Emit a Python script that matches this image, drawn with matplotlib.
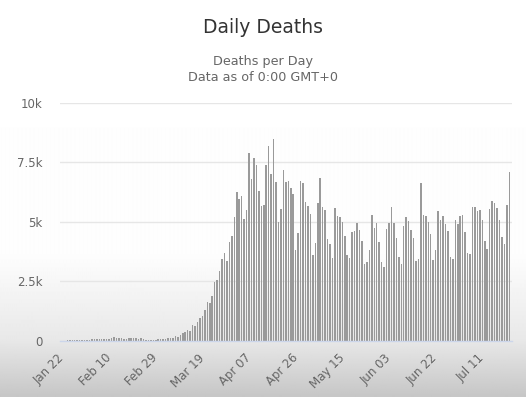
import numpy as np
import pandas as pd
import matplotlib
matplotlib.use("Agg")
import matplotlib.pyplot as plt

# ---- data (daily deaths) ----
start_date = "2020-01-22"
deaths_jan = [0, 8, 15, 15, 20, 25, 25, 30, 35, 40]
deaths_feb = [40, 45, 55, 60, 60, 65, 70, 75, 80, 90, 95, 140, 120, 130, 110, 90,
              85, 110, 100, 100, 95, 90, 110, 60, 50, 30, 40, 35, 35]
deaths_mar = [55, 65, 80, 85, 100, 105, 100, 180, 140, 250, 310, 350, 430, 390,
              660, 630, 800, 950, 1020, 1290, 1610, 1580, 1890, 2450, 2550, 2910,
              3430, 3670, 3340, 4130, 4410]
deaths_apr = [5180, 6260, 5950, 6090, 5100, 5500, 7870, 6800, 7660, 7380, 6300,
              5670, 5700, 7400, 8200, 7000, 8470, 6650, 4970, 5530, 7180, 6650,
              6720, 6400, 6160, 3820, 4520, 6720, 6620, 5840]
deaths_may = [5640, 5320, 3600, 4100, 5800, 6820, 5600, 5500, 4270, 4050, 3490,
              5560, 5250, 5180, 5000, 4380, 3600, 3470, 4550, 4620, 4940, 4660,
              4200, 3220, 3320, 3820, 5280, 4720, 4940, 4160, 3290]
deaths_jun = [3080, 4690, 4940, 5600, 4940, 4300, 3530, 3220, 4800, 5180, 5040,
              4660, 4310, 3360, 3430, 6620, 5280, 5220, 5000, 4480, 3400, 3800,
              5460, 5080, 5220, 4900, 4620, 3530, 3430, 5070]
deaths_jul = [4900, 5220, 5280, 4550, 3680, 3640, 5600, 5600, 5460, 5500, 5080,
              4200, 3850, 5530, 5850, 5800, 5590, 5080, 4370, 4060, 5710, 7070]

daily_deaths = (deaths_jan + deaths_feb + deaths_mar + deaths_apr + deaths_may
                + deaths_jun + deaths_jul)
dates = pd.date_range(start_date, periods=len(daily_deaths), freq="D")
tick_step = 19
y_ticks = [0, 2500, 5000, 7500, 10000]
y_tick_labels = ["0", "2.5k", "5k", "7.5k", "10k"]

title = "Daily Deaths"
subtitle_lines = ["Deaths per Day", "Data as of 0:00 GMT+0"]

# ---- figure ----
W, H = 526, 397
fig = plt.figure(figsize=(W / 100, H / 100), dpi=100)

# background: white fading to grey at the bottom (screenshot vignette)
rows = np.arange(H)
shade = np.interp(rows, [0, 255, 340, 397], [255, 253, 232, 198])
grad = np.tile(shade[:, None], (1, 4))
bg = fig.add_axes([0, 0, 1, 1], zorder=-10)
bg.imshow(grad, aspect="auto", cmap="gray", vmin=0, vmax=255,
          extent=[0, 1, 0, 1], interpolation="bilinear")
bg.axis("off")

left, right = 60 / W, 512 / W
bottom, top = 1 - 340.7 / H, 1 - 102.7 / H
ax = fig.add_axes([left, bottom, right - left, top - bottom])
ax.set_facecolor("none")

x = np.arange(len(daily_deaths))
ax.bar(x, daily_deaths, width=0.62, color="#9a9a9a", edgecolor="none", zorder=3)

ax.set_xlim(-1.0, 183.1)
ax.set_ylim(0, 10000)

ax.set_yticks(y_ticks)
ax.set_yticklabels(y_tick_labels)
ax.yaxis.grid(True, color="#e6e6e6", linewidth=1, zorder=0)
ax.tick_params(axis="y", length=0, pad=12.5, labelsize=8.5, labelcolor="#666666")

tick_pos = x[::tick_step]
ax.set_xticks(tick_pos)
ax.set_xticklabels([d.strftime("%b %d") for d in dates[::tick_step]],
                   rotation=45, ha="right", va="center", rotation_mode="anchor")
ax.tick_params(axis="x", length=0, pad=11, labelsize=8.5, labelcolor="#666666")

for s in ["top", "right", "left"]:
    ax.spines[s].set_visible(False)
ax.spines["bottom"].set_color("#ccd6eb")
ax.spines["bottom"].set_linewidth(1)
ax.spines["bottom"].set_zorder(4)

fig.text(0.5, 1 - 27.5 / H, title, ha="center", va="center",
         fontsize=13.5, color="#333333")
fig.text(0.5, 1 - 61.5 / H, subtitle_lines[0], ha="center", va="center",
         fontsize=9.2, color="#666666")
fig.text(0.5, 1 - 77.5 / H, subtitle_lines[1], ha="center", va="center",
         fontsize=9.2, color="#666666")

fig.savefig("out.png", dpi=100)
